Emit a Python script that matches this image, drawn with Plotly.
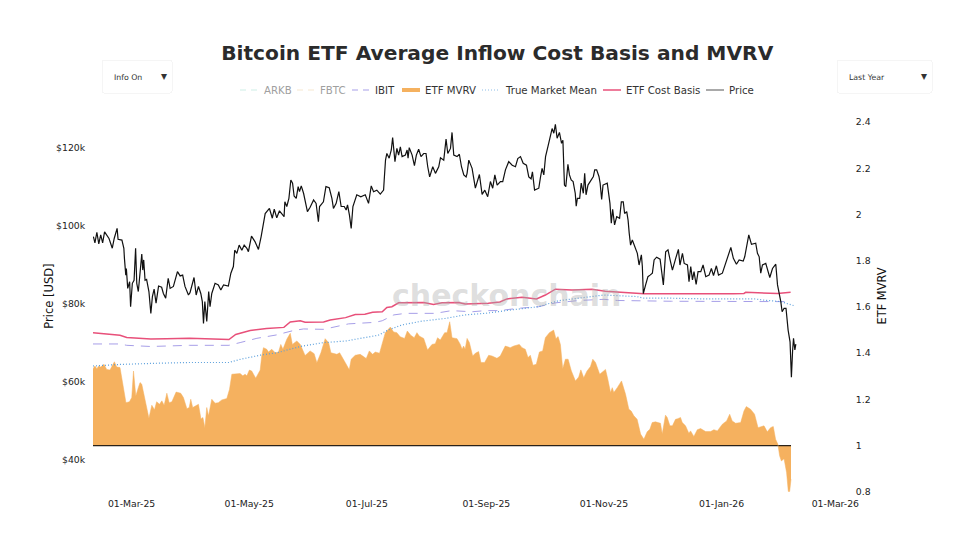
import pandas as pd
import plotly.graph_objects as go

start_date = pd.Timestamp('2025-02-09')

# days since start_date, price in $k
price_days = [0.2, 1, 2, 3, 4, 5, 6, 7, 8.3, 10, 11, 12.5, 13, 15, 16, 16.3, 17, 17.3, 18, 19, 19.5, 20.4, 21.3, 22.1, 22.7, 23.5, 24.4, 25.3, 25.8, 26.3, 27, 27.8, 29, 30, 30.8, 31.7, 32.7, 34, 35.6, 36.5, 37.7, 39, 40, 41.7, 43.8, 45.2, 46.5, 47.7, 49.5, 50.3, 52.4, 53.5, 54.7, 55.9, 56.7, 57.3, 58, 59, 60, 60.7, 61.6, 63.3, 65, 66.3, 67.7, 70.2, 71.5, 72.8, 73.5, 74.6, 75.8, 77.2, 78.4, 79.8, 80.6, 82.2, 84, 85.8, 87.2,
              88.4, 89.3, 91.5, 93, 94, 95.3, 96.7, 97.9, 99.1, 99.5, 100.5, 101.6, 102.6, 103.5, 104.3, 105.4, 106.4, 107.1, 108, 109.2, 110.5, 111.2, 112.6, 114.4, 115.7, 116.9, 117.5, 119.5, 120.8, 122.5, 123.9, 124.7, 126.1, 127.5, 128.7, 130.3, 131.3, 132, 133, 133.9, 134.8, 136.8, 138.9, 141.2, 142.9, 144.3, 145.5, 147.2, 149, 150.7, 151, 151.7, 152.4, 153.6, 154.7, 155.4, 156.6, 157.6, 158.5,
              159.4, 160.3, 162, 162.9, 163.4, 164, 165.5, 166.7, 167.7, 168.9, 170.1, 171.5, 172.7, 173.6, 174.6, 176.2, 177.6, 179.3, 180.2, 181.9, 183.1, 184, 185.4, 186.2, 187.1, 188.8, 190, 191.1, 192.3, 193.5, 194, 194.9, 196.6, 198.3, 200.4, 201.8, 203.2, 204.7, 206.1, 207.3, 208.4, 209.6, 211.3, 212.5, 213.9, 215.6, 217.4, 219.1, 220.3, 221.7, 223.1, 224.8, 226, 227.2, 227.9, 229, 231.2, 232.1, 232.9, 233.8, 234.7, 235.9, 236.9, 238.1, 239, 239.8, 240.7, 241.9, 243, 243.7, 244.5, 245.2, 246.3, 247.1,
              248, 249, 250.1, 250.6, 251.2, 252.4, 253.2, 254.3, 255, 255.7, 256.7, 258.1, 259.5, 260.2, 261.2, 262.4, 263, 263.8, 264.5, 266.7, 267.6, 268.1, 268.8, 269.5, 270.5, 271.6, 273.1, 274, 275, 275.7, 276.8, 277.5, 278.1, 278.8, 279.7, 281.4, 282.3, 283.2, 284.4, 284.9, 285.4, 286.6, 287.8, 288.9, 290.1, 291, 292.3, 294.1, 294.8, 295.8, 297, 298.2, 299.3, 300.5, 302.2, 303.6, 304.4,
              305.7, 306.6, 308.3, 309.1, 310, 310.9, 311.7, 312.8, 313.8, 315.2, 316.4, 317.8, 319.5, 320.7, 321.8, 323.3, 324.4, 326.4, 327.6, 329, 330.8, 332.1, 333.7, 335.1, 337.2, 338, 339.1, 340.1, 341.5, 343.7, 344.6, 345.5, 346.3, 347.2, 348.9, 351, 352.4, 354.1, 355, 355.8, 356.7, 357.4, 358.4, 359.4, 360.5, 361.5, 362.2, 362.8, 363.3, 364, 364.5]
price_values = [97.3, 95.7, 98.4, 95.4, 97.7, 95.7, 98.5, 97.7, 96.8, 94.3, 96.8, 99.4, 96.6, 96.4, 94.3, 91.7, 87.4, 89.1, 84, 85.7, 79.3, 85.3, 86.1, 94.3, 85.3, 83.2, 88.3, 92.8, 88.7, 91.3, 86.1, 86.3, 83.2, 77.6, 81.9, 83.8, 80.2, 84.6, 84.3, 82.7, 81.5, 86.6, 84, 84.5, 88.3, 87.2, 87.4, 84.5, 82.3, 82.9, 86.8, 82.3, 84.5, 82.7, 80.6, 75, 80.6, 75.5, 83.2, 79.3, 82.7, 85.3, 84.9, 83.6, 84.9, 84.6, 87.9, 89.6, 93.8, 93, 95.1, 93.8, 95.1, 94.3, 93.4, 97.4, 96, 94, 97.3,
                100.7, 103.2, 104.5, 102, 104.3, 102.1, 103.9, 103.1, 102.4, 106.2, 105, 107.1, 111.8, 111, 107.7, 107.1, 110.1, 108.8, 110.3, 108.4, 105.4, 103.7, 104.8, 106.7, 105.8, 101.1, 105, 106.2, 110.1, 109.8, 107.1, 104.5, 105.8, 108.8, 105, 105, 104.1, 105.4, 102.8, 99.4, 105, 108, 107.5, 108, 105.8, 110.3, 108.8, 109.2, 108.2, 109.2, 111.6, 116.9, 118.6, 117.4, 119.5, 122.7, 116.5, 119.9, 118.2,
                120.3, 117.8, 118.2, 119.5, 117.4, 120.1, 118.2, 115.5, 118.2, 119.7, 117.8, 118.6, 118.6, 115.2, 112.6, 115.2, 113.5, 115.2, 117.5, 116.9, 122.3, 118.6, 119.9, 124, 118.2, 117.8, 118.4, 115.2, 113.1, 112.6, 113.5, 116.9, 114.8, 109.7, 113.2, 108.1, 109.2, 107.5, 111.4, 109.7, 113.1, 110.5, 111.4, 111.4, 114.4, 116.5, 115.6, 115.2, 117.3, 117.8, 116.1, 115.6, 112.6, 112.1, 113.9, 109.2, 109.7, 112.6, 114.8, 113.1, 117.8, 120.3, 122.5, 125, 123.8, 126.1, 122.5, 124, 121.2, 122, 110.5, 110.1, 115.8, 113.1,
                111.8, 111.4, 108.4, 105.1, 107.1, 107.1, 111, 108.4, 113.5, 108, 110.5, 111.8, 112.7, 114.4, 114.4, 112.7, 111, 106.8, 110.5, 111, 107.1, 105.8, 100.7, 104.3, 100.3, 102.4, 102, 106.2, 106.2, 103.2, 103.7, 101.5, 98.1, 95.1, 96.4, 94.3, 93, 90, 92.6, 89.6, 82.7, 84.9, 87, 87.4, 87.9, 91.3, 92, 91.5, 88.7, 84.9, 93.4, 93.9, 91.3, 88.7, 91.7, 94, 90,
                93, 90.4, 90, 85.7, 89.6, 86.2, 88.3, 85, 88.3, 88.3, 90, 87, 87.4, 89.1, 87.3, 89.8, 87.4, 87.9, 89.6, 91.7, 94.5, 91.7, 90.2, 91.3, 91, 92.1, 95.6, 97.7, 95.3, 95.6, 93, 92.1, 87.9, 90, 90.4, 86.8, 89.1, 90.2, 84.9, 83.2, 80.6, 78, 78.9, 78.9, 73.3, 70.3, 61.2, 67.8, 71.2, 68.2, 69.7]

cost_basis_days = [0, 10, 14, 17.5, 30, 38, 50, 70.5, 74, 81.5, 90, 99, 102.3, 107.5, 110, 119.6, 123, 131, 136, 141, 145, 150, 152.4, 155, 158.5, 171.5, 176.6, 181, 189.6, 193, 205, 211, 214.7, 222.5, 230, 234.6, 239.8, 248.4, 258.8, 265.7, 275, 285.7, 332, 337.6, 338.5, 355, 361.8]
cost_basis_values = [72.65, 72.3, 72, 71.4, 71, 71.1, 71.2, 70.9, 72.2, 73.2, 73.7, 74, 75.4, 75.7, 75.3, 75.4, 75.9, 76.5, 77.3, 77.4, 77.9, 78, 79.1, 79.3, 80.3, 80.4, 79.9, 80.3, 80.4, 80, 80.2, 80.5, 81.3, 81.7, 81.3, 82.3, 83.8, 83.6, 83.8, 83.3, 83, 82.6, 82.6, 82.7, 83, 82.7, 83]

ibit_days = [0, 14, 17.5, 30, 50, 70.5, 76.3, 85, 95, 104, 109.2, 119.6, 132.5, 146.4, 150, 156, 162, 177.5, 186, 196.5, 203.5, 210.4, 220.8, 231, 240, 252, 265, 272, 300, 362]
ibit_values = [69.75, 69.75, 69.4, 69.1, 69.4, 69.4, 70.1, 71.2, 72.05, 73.2, 73.6, 73.5, 74.9, 75.3, 75.7, 77.2, 77.6, 77.6, 78.3, 78, 78.3, 78.3, 78.9, 79.3, 80.3, 80.9, 81.2, 80.9, 80.7, 80.6]

tmm_days = [0, 14, 33, 50, 70.5, 76.3, 87, 95.5, 107.5, 119.6, 131, 148, 153, 160, 170.6, 182.7, 193, 203.5, 217.3, 231, 241.5, 252, 265, 273.6, 282, 285.7, 298, 318.6, 343, 348, 356.6, 364]
tmm_values = [64.1, 64.5, 64.8, 65, 65, 65.8, 66.9, 67.5, 69.1, 70.1, 70.5, 72, 73.3, 74.6, 75.6, 76.3, 77.2, 77.6, 78.5, 79.3, 80.85, 81.5, 82.3, 82.1, 81.9, 81.5, 81.5, 81.3, 81.3, 81, 80.6, 79.5]

mvrv_days = [0, 1, 2, 3, 4, 5.7, 7.1, 8.8, 11.1, 12.3, 14, 15.4, 17.1, 18.9, 20.1, 21, 22.2, 23.5, 24.4, 25.3, 26.6, 27.9, 29, 30.5, 31.9, 33, 34.5, 35.7, 36.9, 38.3, 39.5, 40.9, 43.1, 45.5, 46.9, 48.7, 49.9, 50.7, 51.7, 54.7, 56, 57, 58, 59, 59.9, 61.6, 63.3, 65, 66.8, 69.4, 70.8, 72, 74.6, 76.3, 77.7, 78.9, 79.8, 81.1, 82.3, 84.4, 86.7, 87.5, 88.4, 90.1, 91, 92.7, 94.5, 96.2, 97.4, 98.5, 100.5, 102.3, 103.4, 105.7, 107.5, 110, 112.6, 114.7, 116.1, 118.2, 120.4, 122.2, 123.4, 126.5, 127.9, 129.6,
             130.8, 132.9, 133.9, 136, 138.6, 141.7, 143.3, 145, 146.4, 148.6, 150.2, 151.6, 154.2, 155.9, 157.6, 159.3, 161.6, 163, 164.9, 166.6, 168, 169.2, 171.5, 173.5, 175.8, 177.5, 178.7, 180.1, 182.4, 183.6, 185, 186.2, 188.8, 190.5, 191.4, 192.2, 193, 194, 195.2, 196.9, 198.3, 200, 201.2, 203.1, 205.2, 206.9, 209.5, 211.2, 213.8, 216.4, 218.2, 219.9, 221.1, 222.5, 224.2, 225.6, 226.8, 228.2, 229.9, 231.5, 233.2, 234.6, 236.7, 238.9, 240.1, 241.2, 242.4, 243.6, 245, 246.4, 248.1, 250.2, 251.9, 253, 254.5, 256.2, 258, 259.2, 260.6, 262.8,
             265.8, 267, 268.4, 269.3, 270.1, 271.9, 274.1, 276.2, 277.9, 279.1, 280.5, 282.2, 284, 285.7, 287.4, 288.8, 290, 291.7, 294.3, 295.2, 296.9, 297.8, 299.2, 300.5, 302.1, 303.3, 304.7, 305.6, 307.3, 309, 309.9, 311.6, 313.4, 315.1, 317.7, 320.3, 322, 323.8, 326.4, 328.6, 330.2, 331.5, 333.3, 335.9, 337.6, 338.8, 341, 343.1, 344.9, 348, 349.7, 351.4, 352.8, 354, 355.2, 356.1, 357, 358.4, 359.7, 360.6, 361.3, 362]
mvrv_values = [1.333, 1.345, 1.333, 1.345, 1.34, 1.352, 1.33, 1.327, 1.363, 1.34, 1.338, 1.273, 1.186, 1.19, 1.208, 1.323, 1.215, 1.251, 1.273, 1.266, 1.215, 1.157, 1.119, 1.175, 1.155, 1.19, 1.179, 1.194, 1.175, 1.227, 1.186, 1.19, 1.232, 1.227, 1.208, 1.16, 1.165, 1.201, 1.165, 1.179, 1.115, 1.122, 1.078, 1.165, 1.129, 1.201, 1.184, 1.186, 1.198, 1.204, 1.244, 1.309, 1.309, 1.312, 1.302, 1.309, 1.302, 1.327, 1.323, 1.292, 1.327, 1.388, 1.424, 1.417, 1.405, 1.417, 1.402, 1.405, 1.438, 1.417, 1.46, 1.486, 1.438, 1.453, 1.438, 1.39, 1.41, 1.398, 1.359, 1.402, 1.463, 1.445, 1.402, 1.395, 1.402, 1.374,
               1.36, 1.328, 1.374, 1.391, 1.395, 1.377, 1.41, 1.395, 1.405, 1.4, 1.453, 1.489, 1.513, 1.492, 1.489, 1.471, 1.464, 1.496, 1.477, 1.467, 1.489, 1.474, 1.464, 1.414, 1.438, 1.441, 1.467, 1.457, 1.489, 1.489, 1.536, 1.467, 1.463, 1.438, 1.417, 1.431, 1.417, 1.464, 1.446, 1.388, 1.4, 1.407, 1.36, 1.36, 1.391, 1.388, 1.378, 1.388, 1.431, 1.424, 1.431, 1.434, 1.438, 1.424, 1.417, 1.381, 1.391, 1.348, 1.352, 1.405, 1.41, 1.467, 1.489, 1.5, 1.463, 1.472, 1.438, 1.333, 1.374, 1.374, 1.323, 1.28, 1.297, 1.328, 1.294, 1.323, 1.342, 1.374, 1.36, 1.309,
               1.33, 1.287, 1.23, 1.251, 1.23, 1.251, 1.28, 1.222, 1.158, 1.15, 1.129, 1.114, 1.05, 1.028, 1.06, 1.071, 1.1, 1.103, 1.097, 1.05, 1.132, 1.122, 1.086, 1.086, 1.114, 1.117, 1.122, 1.1, 1.086, 1.054, 1.064, 1.04, 1.069, 1.074, 1.061, 1.061, 1.069, 1.064, 1.093, 1.107, 1.136, 1.107, 1.097, 1.1, 1.15, 1.169, 1.158, 1.136, 1.078, 1.086, 1.06, 1.078, 1.083, 1.028, 1.006, 0.956, 0.934, 0.944, 0.884, 0.802, 0.802, 0.855]

base_days = [0, 362]
base_values = [1, 1]

# legend entries, the two greyed out ones have no line on the chart
legend_names = ['ARKB', 'FBTC', 'IBIT', 'ETF MVRV', 'True Market Mean', 'ETF Cost Basis', 'Price']
legend_colors = ['#cdeee6', '#f6e7cf', '#a79fe8', '#f5b15f', '#8dbde6', '#e8507a', '#555555']
legend_dashes = ['6px,5px', '6px,5px', '6px,5px', 'solid', '1px,2px', 'solid', 'solid']
legend_widths = [1, 1, 1, 4, 1, 1.5, 1]
legend_text_colors = ['#a0a0a0', '#a0a0a0', '#333333', '#333333', '#333333', '#333333', '#333333']
legend_left = [240, 297, 352, 402, 482, 603, 706]
legend_text_left = [263, 319, 374, 424, 504, 625, 728]

ORANGE = 'rgb(245,177,95)'


def to_dates(days):
    return start_date + pd.to_timedelta(days, unit='D')


def to_usd(values):
    return [v * 1000 for v in values]


def paper_x(px):
    return (px - 93) / 752


def paper_y(px):
    return (497 - px) / 402


fig = go.Figure()

fig.add_trace(go.Scatter(x=to_dates(ibit_days), y=to_usd(ibit_values), mode='lines', name='IBIT', yaxis='y2',
                         line=dict(color='#a79fe8', width=1, dash='9px,7px')))
# MVRV fills against the break even line at 1, so the line goes in first
fig.add_trace(go.Scatter(x=to_dates(base_days), y=base_values, mode='lines', hoverinfo='skip', name='Break even',
                         line=dict(color='#2a2218', width=1.2)))
fig.add_trace(go.Scatter(x=to_dates(mvrv_days), y=mvrv_values, mode='lines', name='ETF MVRV', fill='tonexty',
                         fillcolor=ORANGE, line=dict(color=ORANGE, width=0.5)))
fig.add_trace(go.Scatter(x=to_dates(tmm_days), y=to_usd(tmm_values), mode='lines', name='True Market Mean', yaxis='y2',
                         line=dict(color='#5a9fdc', width=1.2, dash='1px,2px')))
fig.add_trace(go.Scatter(x=to_dates(cost_basis_days), y=to_usd(cost_basis_values), mode='lines', name='ETF Cost Basis', yaxis='y2',
                         line=dict(color='#e8507a', width=1.5)))
fig.add_trace(go.Scatter(x=to_dates(price_days), y=to_usd(price_values), mode='lines', name='Price', yaxis='y2',
                         line=dict(color='#111111', width=1.2)))

legend_shapes = []
legend_notes = []
for i, name in enumerate(legend_names):
    legend_shapes.append(dict(type='line', xref='paper', yref='paper', x0=paper_x(legend_left[i]), x1=paper_x(legend_left[i] + 18),
                              y0=paper_y(90), y1=paper_y(90), line=dict(color=legend_colors[i], width=legend_widths[i], dash=legend_dashes[i])))
    legend_notes.append(dict(text=name, xref='paper', yref='paper', x=paper_x(legend_text_left[i]), y=paper_y(90), xanchor='left',
                             yanchor='middle', xshift=-1, showarrow=False, font=dict(size=10.2, color=legend_text_colors[i])))

watermark = dict(text='<b>checkonchain</b>', xref='paper', yref='paper', x=paper_x(507), y=paper_y(295), showarrow=False,
                 font=dict(family='DejaVu Sans', size=30, color='rgba(170,170,170,0.4)'))

fig.update_layout(
    paper_bgcolor='white',
    plot_bgcolor='white',
    font=dict(family='DejaVu Sans', color='#222222', size=9.3),
    margin=dict(l=85, r=126, t=87, b=28),
    title=dict(text='<b>Bitcoin ETF Average Inflow Cost Basis and MVRV</b>', x=0.508, xanchor='center', y=0.913, yanchor='middle',
               font=dict(family='DejaVu Sans', size=20.2, color='#2b2b2b')),
    showlegend=False,
    xaxis=dict(type='date', range=['2025-02-09', '2026-03-06'], tick0='2025-03-01', dtick='M2', tickformat='%d-%b-%y',
               showgrid=False, zeroline=False, showline=False, ticks=''),
    # MVRV is the base axis so that price and the cost lines draw over the area
    yaxis=dict(side='right', range=[0.778, 2.517], tickvals=[0.8, 1, 1.2, 1.4, 1.6, 1.8, 2, 2.2, 2.4],
               ticktext=['0.8', '1', '1.2', '1.4', '1.6', '1.8', '2', '2.2', '2.4'], showgrid=False, zeroline=False,
               ticks='outside', ticklen=8, tickcolor='white',
               title=dict(text='ETF MVRV', font=dict(size=11.4, color='#111111'), standoff=8)),
    yaxis2=dict(side='left', overlaying='y', range=[30500, 133600], tickvals=[40000, 60000, 80000, 100000, 120000],
                ticktext=['$40k', '$60k', '$80k', '$100k', '$120k'], showgrid=False, zeroline=False,
                ticks='outside', ticklen=5, tickcolor='white',
                title=dict(text='Price [USD]', font=dict(size=11.5, color='#111111'), standoff=0)),
    updatemenus=[
        dict(type='dropdown', x=paper_x(101), xanchor='left', y=paper_y(59.5), yanchor='top', pad=dict(l=0, r=0, t=0, b=0), showactive=True,
             bgcolor='white', bordercolor='#f5f5f5', borderwidth=1, font=dict(size=7.8, color='#333333'),
             buttons=[dict(label='Info On', method='skip'), dict(label='Info Off', method='skip')]),
        dict(type='dropdown', x=paper_x(836), xanchor='left', y=paper_y(59.5), yanchor='top', pad=dict(l=0, r=0, t=0, b=0), showactive=True,
             bgcolor='white', bordercolor='#f5f5f5', borderwidth=1, font=dict(size=7.8, color='#333333'),
             buttons=[dict(label='Last Year', method='skip'), dict(label='Last 6 Months', method='skip'),
                      dict(label='All History', method='skip')]),
    ],
    shapes=legend_shapes,
    annotations=legend_notes + [watermark],
)

fig.write_html("out.html")
